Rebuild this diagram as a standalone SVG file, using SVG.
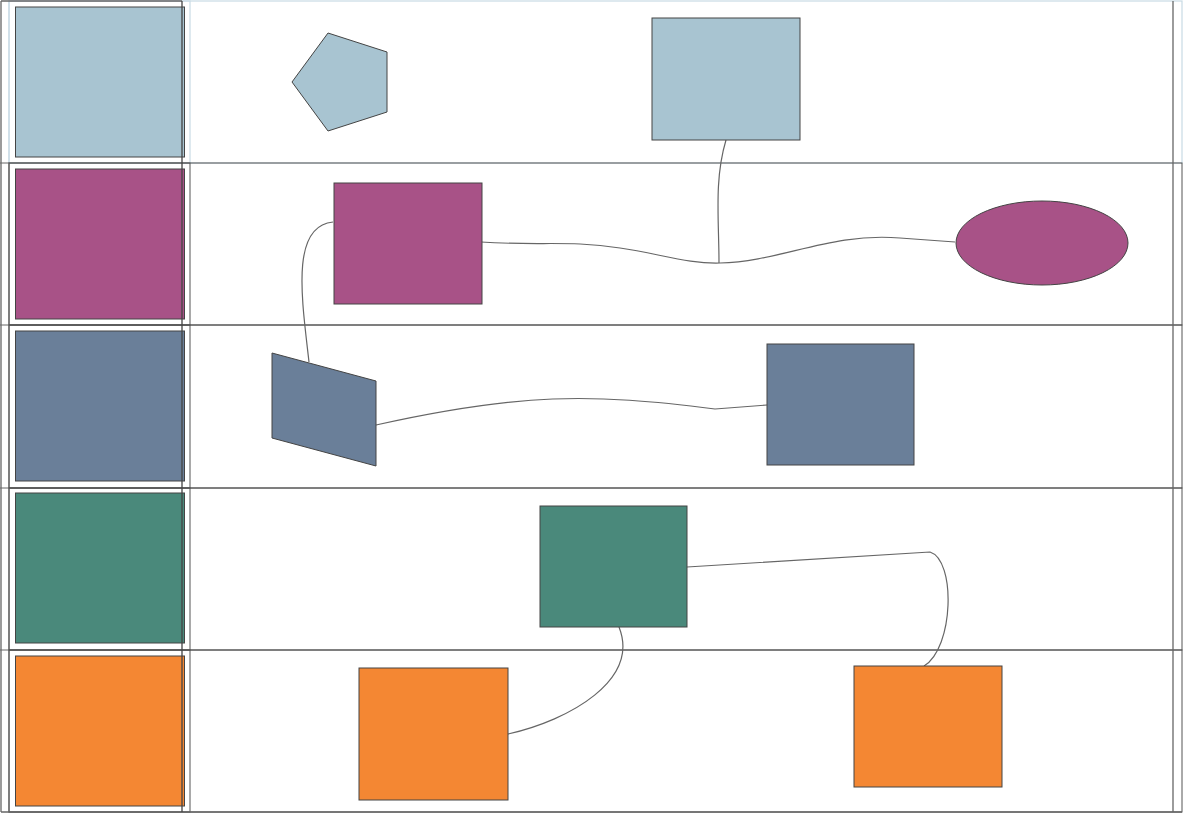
<svg xmlns="http://www.w3.org/2000/svg" width="1200" height="813" viewBox="0 0 1200 813">
<style>
.lane{fill:none;stroke:#555;stroke-width:1}
.lane0{fill:none;stroke:#c8dbe4;stroke-width:1.2}
.n{stroke:#444;stroke-width:1}
.c{fill:none;stroke:#666;stroke-width:1.2}
.sep{stroke:#666;stroke-width:1.3}
</style>
<rect width="1200" height="813" fill="#fff"/>
<g id="lanes">
<rect class="lane0" x="9" y="1" width="1173" height="162"/>
<rect class="lane0" x="9" y="1" width="181" height="162"/>
<rect class="lane" x="9" y="163" width="1173" height="162"/>
<rect class="lane" x="9" y="163" width="181" height="162"/>
<rect class="lane" x="9" y="325" width="1173" height="163"/>
<rect class="lane" x="9" y="325" width="181" height="163"/>
<rect class="lane" x="9" y="488" width="1173" height="162"/>
<rect class="lane" x="9" y="488" width="181" height="162"/>
<rect class="lane" x="9" y="650" width="1173" height="162"/>
<rect class="lane" x="9" y="650" width="181" height="162"/>
<line class="sep" x1="1" y1="1" x2="1" y2="812"/>
<line class="sep" x1="1" y1="1" x2="182" y2="1"/>
<line class="sep" x1="1173" y1="1" x2="1173" y2="812"/>
<line class="sep" x1="1" y1="812" x2="1182" y2="812"/>
<line x1="0" y1="163" x2="9" y2="163" stroke="#666"/>
<line x1="0" y1="325" x2="9" y2="325" stroke="#666"/>
<line x1="0" y1="488" x2="9" y2="488" stroke="#666"/>
<line x1="0" y1="650" x2="9" y2="650" stroke="#666"/>
</g>
<g id="headers">
<rect class="n" x="15.5" y="7" width="169" height="150" fill="#a8c4d1"/>
<rect class="n" x="15.5" y="169" width="169" height="150" fill="#a85287"/>
<rect class="n" x="15.5" y="331" width="169" height="150" fill="#6a7f99"/>
<rect class="n" x="15.5" y="493" width="169" height="150" fill="#4a897b"/>
<rect class="n" x="15.5" y="656" width="169" height="150" fill="#f48733"/>
<line x1="182" y1="1" x2="182" y2="812" stroke="#444" stroke-width="1.3"/>
</g>
<g id="connectors">
<path class="c" d="M481,242 C540,246 570,240 620,248 C660,254 690,264 720,263 C780,262 830,232 900,238 L955,242"/>
<path class="c" d="M726,140 C714,180 719,220 719,263"/>
<path class="c" d="M333,222 C290,226 302,300 309,362"/>
<path class="c" d="M376,425 C520,393 590,393 715,409 L767,405"/>
<path class="c" d="M687,567 L930,552 C956,560 954,648 924,666"/>
<path class="c" d="M619,627 C640,680 570,720 508,734"/>
</g>
<g id="n1"><polygon class="n" points="328,33 387,52 387,112 328,131 292,82" fill="#a8c4d1"/></g>
<g id="n2"><rect class="n" x="652" y="18" width="148" height="122" fill="#a8c4d1"/></g>
<g id="n3"><rect class="n" x="334" y="183" width="148" height="121" fill="#a85287"/></g>
<g id="n4"><ellipse class="n" cx="1042" cy="243" rx="86" ry="42" fill="#a85287"/></g>
<g id="n5"><polygon class="n" points="272,353 376,381 376,466 272,438" fill="#6a7f99"/></g>
<g id="n6"><rect class="n" x="767" y="344" width="147" height="121" fill="#6a7f99"/></g>
<g id="n7"><rect class="n" x="540" y="506" width="147" height="121" fill="#4a897b"/></g>
<g id="n8"><rect class="n" x="359" y="668" width="149" height="132" fill="#f48733"/></g>
<g id="n9"><rect class="n" x="854" y="666" width="148" height="121" fill="#f48733"/></g>
</svg>
